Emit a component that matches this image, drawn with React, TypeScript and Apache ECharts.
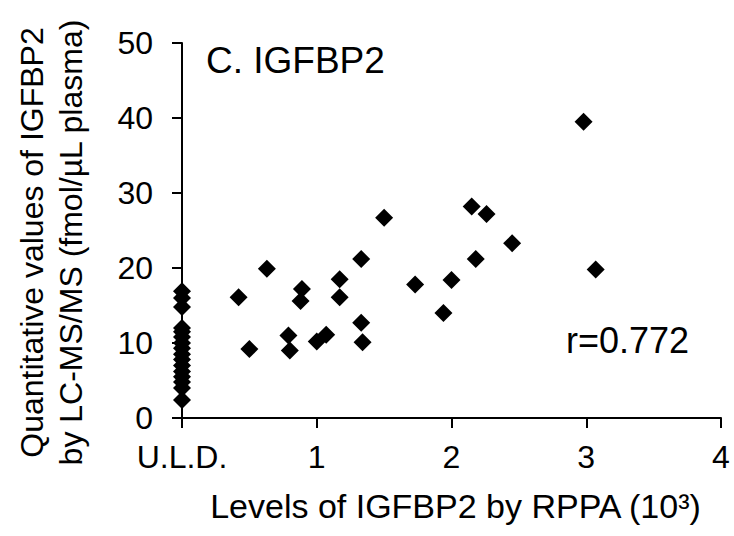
import React, { useEffect, useRef } from "react";
import * as echarts from "echarts";

const uldValues = [16.9, 16.0, 14.8, 12.0, 11.5, 10.8, 10.0, 9.3, 8.5, 7.8, 7.0, 6.2, 5.5, 4.8, 4.0, 2.4];
const rppaX = [0.42, 0.5, 0.63, 0.79, 0.8, 0.89, 0.88, 1.0, 1.07, 1.17, 1.17, 1.33, 1.33, 1.34, 1.5, 1.73, 1.94, 2.0, 2.15, 2.26, 2.18, 2.45, 2.98, 3.07];
const rppaY = [16.1, 9.2, 19.9, 11.0, 9.0, 17.2, 15.6, 10.2, 11.1, 18.5, 16.1, 21.2, 12.7, 10.1, 26.7, 17.8, 14.0, 18.4, 28.2, 27.2, 21.2, 23.3, 39.5, 19.8];
const xTicks = ["U.L.D.", "1", "2", "3", "4"];
const titleText = "C. IGFBP2";
const rText = "r=0.772";
const xName = "Levels of IGFBP2 by RPPA (10³)";
const yName = "Quantitative values of IGFBP2\nby LC-MS/MS (fmol/µL plasma)";

const FONT = "'Liberation Sans', Arial, sans-serif";

export default function App() {
  const ref = useRef<HTMLDivElement>(null);
  useEffect(() => {
    if (!ref.current) return;
    const chart = echarts.init(ref.current, null, { renderer: "svg" });
    const data: number[][] = [];
    uldValues.forEach((v) => data.push([0, v]));
    rppaX.forEach((x, i) => data.push([x, rppaY[i]]));
    chart.setOption({
      animation: false,
      backgroundColor: "#fff",
      textStyle: { fontFamily: FONT, color: "#000" },
      title: {
        text: titleText,
        left: 201,
        top: 37,
        textStyle: { fontFamily: FONT, fontSize: 37, fontWeight: "normal", color: "#000" },
      },
      grid: { left: 182, right: 13, top: 43, bottom: 118, containLabel: false, outerBoundsMode: "none" },
      xAxis: {
        type: "value",
        min: 0,
        max: 4,
        interval: 1,
        splitLine: { show: false },
        axisLine: { show: true, onZero: false, lineStyle: { color: "#000", width: 2 } },
        axisTick: { show: true, length: 10, lineStyle: { color: "#000", width: 2 } },
        axisLabel: {
          fontSize: 32,
          color: "#000",
          fontFamily: FONT,
          margin: 23,
          formatter: (v: number) => xTicks[Math.round(v)] ?? String(v),
        },
        name: xName,
        nameLocation: "middle",
        nameGap: 71,
        nameTextStyle: { fontSize: 34, color: "#000", fontFamily: FONT, padding: [0, 0, 0, 8] },
      },
      yAxis: {
        type: "value",
        min: 0,
        max: 50,
        interval: 10,
        splitLine: { show: false },
        axisLine: { show: true, lineStyle: { color: "#000", width: 2 } },
        axisTick: { show: true, length: 10, lineStyle: { color: "#000", width: 2 } },
        axisLabel: { fontSize: 32, color: "#000", fontFamily: FONT, margin: 29 },
        name: yName,
        nameLocation: "middle",
        nameGap: 92,
        nameRotate: 90,
        nameTextStyle: { fontSize: 32, color: "#000", fontFamily: FONT, lineHeight: 39, padding: [0, 24, 0, 0] },
      },
      graphic: [
        {
          type: "text",
          left: 566,
          top: 322,
          style: { text: rText, fontSize: 36, fontFamily: FONT, fill: "#000" },
        },
      ],
      series: [
        {
          type: "scatter",
          symbol: "diamond",
          symbolSize: 18,
          itemStyle: { color: "#000", opacity: 1 },
          data,
        },
      ],
    });
    return () => chart.dispose();
  }, []);
  return <div ref={ref} style={{ width: 734, height: 536, position: "absolute", left: 0, top: 0 }} />;
}
